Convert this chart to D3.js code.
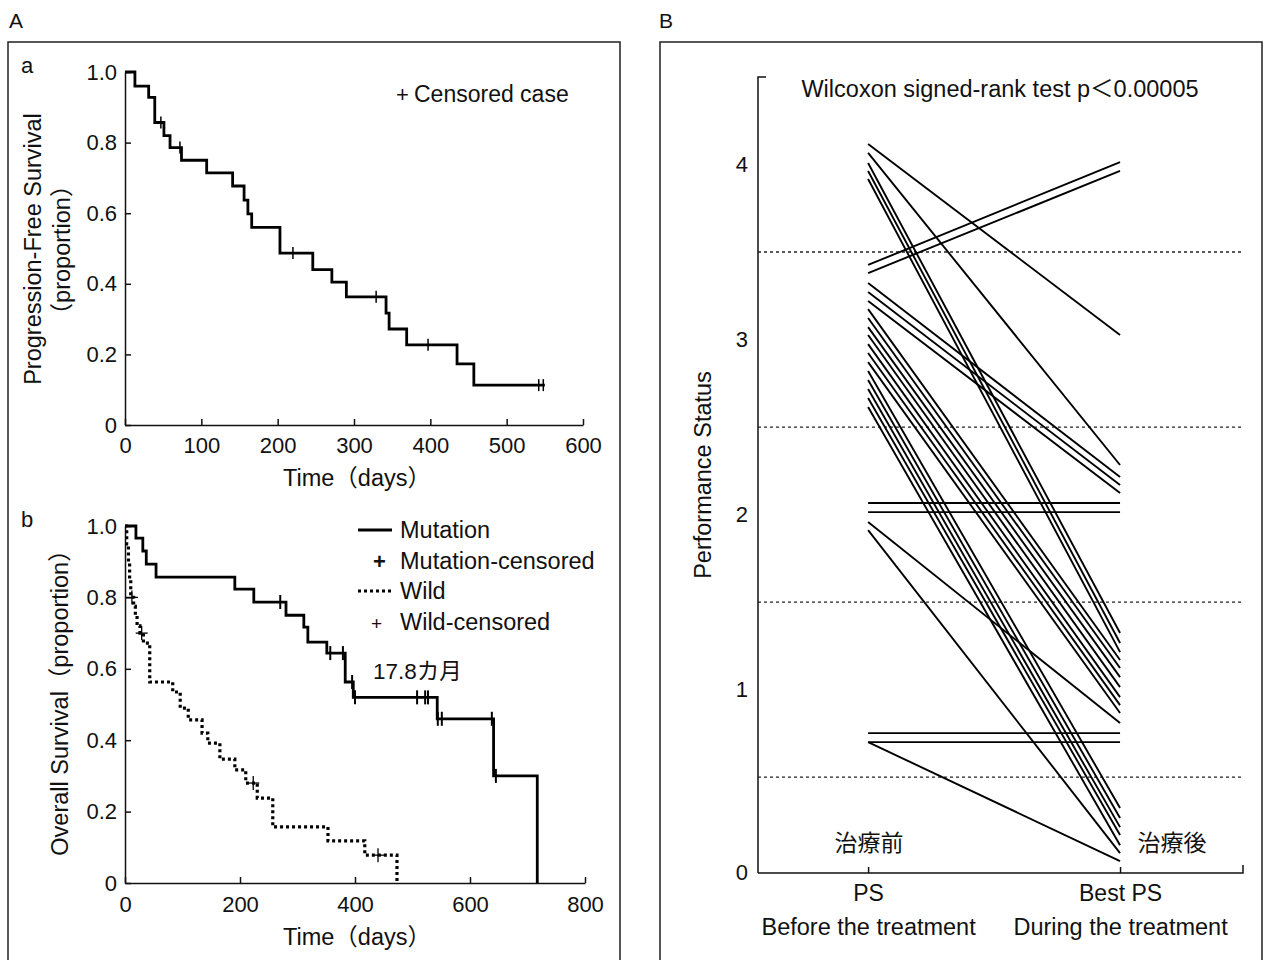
<!DOCTYPE html>
<html><head><meta charset="utf-8">
<script src="https://cdn.jsdelivr.net/npm/d3@7"></script>
<style>
body{margin:0;background:#fff}
svg{display:block}
text{font-family:"Liberation Sans","Noto Sans CJK JP",sans-serif;fill:#111}
</style>
</head><body><svg id="c" width="1268" height="960"></svg>
<script>
// ---------- DATA ----------
// Panel a: progression-free survival (time in days, proportion after each drop)
const pfsTimes = [0, 13, 31, 39, 51, 59, 74, 107, 141, 156, 161, 166, 203, 246, 271, 290, 342, 346, 369, 435, 457];
const pfsSurv  = [1.0, 0.96, 0.928, 0.857, 0.82, 0.786, 0.75, 0.714, 0.677, 0.637, 0.598, 0.56, 0.487, 0.44, 0.405, 0.363, 0.317, 0.272, 0.227, 0.173, 0.113];
const pfsLast = 550;
const pfsCensored = [47, 72, 220, 329, 397, 542, 548];

// Panel b: overall survival, Mutation
const mutTimes = [0, 19, 31, 37, 54, 191, 224, 280, 311, 318, 351, 383, 397, 543, 641, 717];
const mutSurv  = [1.0, 0.966, 0.93, 0.893, 0.857, 0.823, 0.787, 0.75, 0.717, 0.675, 0.644, 0.563, 0.52, 0.46, 0.30, 0];
const mutCensored = [270, 357, 379, 395, 400, 508, 522, 527, 544, 551, 638, 645];

// Panel b: overall survival, Wild
const wildTimes = [0, 3, 6, 8, 10, 15, 18, 21, 26, 32, 43, 83, 96, 110, 134, 144, 165, 191, 210, 230, 257, 353, 417, 473];
const wildSurv  = [1.0, 0.95, 0.90, 0.85, 0.80, 0.775, 0.75, 0.72, 0.70, 0.672, 0.563, 0.535, 0.49, 0.457, 0.42, 0.392, 0.347, 0.317, 0.28, 0.238, 0.157, 0.118, 0.078, 0];
const wildCensored = [12, 29, 223, 440];

// Panel B: performance status before / best during treatment (one pair per patient)
const psBefore = [4.117, 4.066, 4.009, 3.963, 3.917, 3.426, 3.38, 3.323, 3.271, 3.22,
                  3.174, 3.123, 3.071, 3.026, 2.974, 2.923, 2.871, 2.82, 2.769, 2.717, 2.666, 2.614,
                  2.066, 2.014, 1.957, 1.911, 0.751, 0.70, 0.70];
const psAfter  = [3.026, 2.283, 1.323, 1.266, 1.214, 4.014, 3.963, 2.214, 2.169, 2.123,
                  1.169, 1.123, 1.071, 1.014, 0.957, 0.911, 0.866, 0.323, 0.266, 0.214, 0.169, 0.111,
                  2.066, 2.014, 0.809, 0.066, 0.751, 0.70, 0.02];

const aYTicks = [0, 0.2, 0.4, 0.6, 0.8, 1.0];
const aYLabels = ["0", "0.2", "0.4", "0.6", "0.8", "1.0"];
const aXTicks = [0, 100, 200, 300, 400, 500, 600];
const bXTicks = [0, 200, 400, 600, 800];
const BYTicks = [0, 1, 2, 3, 4];
const BGrid = [0.5, 1.5, 2.5, 3.5];
const BCats = ["PS", "Best PS"];
const BCatsSub = ["Before the treatment", "During the treatment"];

// ---------- DRAW ----------
const svg = d3.select("#c");
const FS = 23;     // titles, legends
const TFS = 22;    // tick labels
const FONT = '"Liberation Sans","Noto Sans CJK JP",sans-serif';

function txt(x, y, s, opt = {}) {
  const t = svg.append("text").attr("x", x).attr("y", y).text(s)
    .style("font-size", (opt.size || FS) + "px")
    .attr("text-anchor", opt.anchor || "start");
  if (opt.rotate) t.attr("transform", `rotate(-90,${x},${y})`);
  return t;
}

// panel frames
svg.append("path").attr("d", "M8,975 V42 H620 V975").attr("fill", "none").attr("stroke", "#222").attr("stroke-width", 1.5);
svg.append("path").attr("d", "M660,975 V42 H1262 V975").attr("fill", "none").attr("stroke", "#222").attr("stroke-width", 1.5);

txt(9, 28, "A", {size: 21});
txt(659, 28, "B", {size: 21});
txt(21, 73, "a", {size: 22});
txt(21, 527, "b", {size: 22});

function styleAxis(g) {
  g.selectAll("path,line").attr("stroke", "#111").attr("stroke-width", 1.5);
  g.selectAll("text").style("font-size", TFS + "px").attr("fill", "#111").style("font-family", FONT);
}

function kmPoints(times, surv, last) {
  const pts = times.map((t, i) => [t, surv[i]]);
  if (last !== undefined) pts.push([last, surv[surv.length - 1]]);
  return pts;
}
function survAt(times, surv, t) {
  let s = surv[0];
  for (let i = 0; i < times.length; i++) if (times[i] <= t) s = surv[i];
  return s;
}

// ---- panel a ----
const xa = d3.scaleLinear().domain([0, 600]).range([125, 583]);
const ya = d3.scaleLinear().domain([0, 1]).range([425, 72]);

svg.append("g").attr("transform", "translate(0,425)")
  .call(d3.axisBottom(xa).tickValues(aXTicks).tickSizeInner(-6).tickSizeOuter(0).tickPadding(12))
  .call(styleAxis);
svg.append("g").attr("transform", "translate(125,0)")
  .call(d3.axisLeft(ya).tickValues(aYTicks).tickFormat((d, i) => aYLabels[i]).tickSizeInner(-6).tickSizeOuter(0).tickPadding(8))
  .call(styleAxis);

const lineA = d3.line().x(d => xa(d[0])).y(d => ya(d[1])).curve(d3.curveStepAfter);
svg.append("path").datum(kmPoints(pfsTimes, pfsSurv, pfsLast)).attr("d", lineA)
  .attr("fill", "none").attr("stroke", "#000").attr("stroke-width", 2.8);
svg.append("g").selectAll("line").data(pfsCensored).join("line")
  .attr("x1", d => xa(d)).attr("x2", d => xa(d))
  .attr("y1", d => ya(survAt(pfsTimes, pfsSurv, d)) - 6)
  .attr("y2", d => ya(survAt(pfsTimes, pfsSurv, d)) + 6)
  .attr("stroke", "#000").attr("stroke-width", 1.5);

txt(33, 249, "Progression-Free Survival", {anchor: "middle", rotate: true, size: 23.5}).attr("dy", "0.35em");
txt(62, 250, "（proportion）", {anchor: "middle", rotate: true, size: 23.5}).attr("dy", "0.35em");
txt(357, 486, "Time（days）", {anchor: "middle", size: 23.5});
txt(396, 102, "+", {size: 22});
txt(414, 102, "Censored case", {size: 23});

// ---- panel b ----
const xb = d3.scaleLinear().domain([0, 800]).range([125, 585]);
const yb = d3.scaleLinear().domain([0, 1]).range([883, 526]);

svg.append("g").attr("transform", "translate(0,883)")
  .call(d3.axisBottom(xb).tickValues(bXTicks).tickSizeInner(-6).tickSizeOuter(0).tickPadding(13))
  .call(styleAxis);
svg.append("g").attr("transform", "translate(125,0)")
  .call(d3.axisLeft(yb).tickValues(aYTicks).tickFormat((d, i) => aYLabels[i]).tickSizeInner(-6).tickSizeOuter(0).tickPadding(8))
  .call(styleAxis);

const lineB = d3.line().x(d => xb(d[0])).y(d => yb(d[1])).curve(d3.curveStepAfter);
svg.append("path").datum(kmPoints(wildTimes, wildSurv)).attr("d", lineB)
  .attr("fill", "none").attr("stroke", "#000").attr("stroke-width", 3.2).attr("stroke-dasharray", "3,3");
svg.append("path").datum(kmPoints(mutTimes, mutSurv)).attr("d", lineB)
  .attr("fill", "none").attr("stroke", "#000").attr("stroke-width", 2.8);

svg.append("g").selectAll("line").data(mutCensored).join("line")
  .attr("x1", d => xb(d)).attr("x2", d => xb(d))
  .attr("y1", d => yb(survAt(mutTimes, mutSurv, d)) - 7)
  .attr("y2", d => yb(survAt(mutTimes, mutSurv, d)) + 7)
  .attr("stroke", "#000").attr("stroke-width", 2);
const wc = svg.append("g").selectAll("g").data(wildCensored).join("g")
  .attr("transform", d => `translate(${xb(d)},${yb(survAt(wildTimes, wildSurv, d))})`);
wc.append("line").attr("x1", 0).attr("x2", 0).attr("y1", -7).attr("y2", 7).attr("stroke", "#000").attr("stroke-width", 1.3);
wc.append("line").attr("x1", -6).attr("x2", 6).attr("y1", 0).attr("y2", 0).attr("stroke", "#000").attr("stroke-width", 1.3);

txt(60, 697, "Overall Survival（proportion）", {anchor: "middle", rotate: true, size: 23.5}).attr("dy", "0.35em");
txt(357, 945, "Time（days）", {anchor: "middle", size: 23.5});

// legend
svg.append("line").attr("x1", 358).attr("x2", 392).attr("y1", 530).attr("y2", 530).attr("stroke", "#000").attr("stroke-width", 2.8);
txt(400, 538, "Mutation", {size: 23.5});
txt(373, 569, "+", {size: 22}).style("font-weight", "bold");
txt(400, 569, "Mutation-censored", {size: 23.5});
svg.append("line").attr("x1", 358).attr("x2", 392).attr("y1", 591).attr("y2", 591).attr("stroke", "#000").attr("stroke-width", 3).attr("stroke-dasharray", "3,3");
txt(400, 599, "Wild", {size: 23.5});
txt(371, 630, "+", {size: 19});
txt(400, 630, "Wild-censored", {size: 23.5});
txt(373, 679, "17.8カ月", {size: 22.5});

// ---- panel B ----
const xB = d3.scaleLinear().domain([-0.437, 1.488]).range([758, 1243]);
const yB = d3.scaleLinear().domain([-0.048, 4.5]).range([873, 77]);

svg.append("g").selectAll("line").data(BGrid).join("line")
  .attr("x1", xB(-0.437)).attr("x2", xB(1.488))
  .attr("y1", d => yB(d)).attr("y2", d => yB(d))
  .attr("stroke", "#222").attr("stroke-width", 1.3).attr("stroke-dasharray", "3,3");

const gy = svg.append("g").attr("transform", "translate(758,0)")
  .call(d3.axisLeft(yB).tickValues(BYTicks).tickFormat(d3.format("d")).tickSizeInner(0).tickSizeOuter(0).tickPadding(10))
  .call(styleAxis);
gy.select(".domain").attr("d", `M0,${yB(-0.048)}V${yB(4.5)}H8`);
gy.selectAll(".tick").filter(d => d === 0).attr("transform", `translate(0,${yB(-0.048)})`);

const gx = svg.append("g").attr("transform", `translate(0,${yB(-0.048)})`)
  .call(d3.axisBottom(xB).tickValues([0, 1]).tickFormat((d, i) => BCats[i]).tickSizeInner(-6).tickSizeOuter(0).tickPadding(12))
  .call(styleAxis);
gx.selectAll(".tick text").style("font-size", FS + "px");
gx.select(".domain").attr("d", `M${xB(-0.437)},0H${xB(1.488)}V-8`);
gx.selectAll(".tick").append("text").attr("y", 45).attr("dy", "0.71em")
  .attr("text-anchor", "middle").attr("fill", "#111")
  .style("font-size", "23.5px").style("font-family", FONT)
  .text((d, i) => BCatsSub[i]);

svg.append("g").selectAll("line").data(psBefore).join("line")
  .attr("x1", xB(0)).attr("x2", xB(1))
  .attr("y1", d => yB(d)).attr("y2", (d, i) => yB(psAfter[i]))
  .attr("stroke", "#000").attr("stroke-width", 1.9);

txt(703, 475, "Performance Status", {anchor: "middle", rotate: true, size: 23.5}).attr("dy", "0.35em");
txt(1000, 97, "Wilcoxon signed-rank test p＜0.00005", {anchor: "middle", size: 23.5});
txt(869, 851, "治療前", {anchor: "middle", size: 23});
txt(1172, 851, "治療後", {anchor: "middle", size: 23});
</script>
</body></html>
